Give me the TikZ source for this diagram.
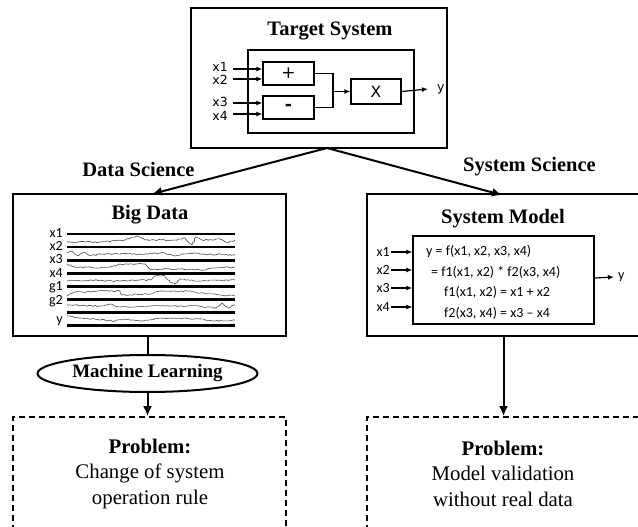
\documentclass[tikz,border=0pt]{standalone}
\usepackage{fontspec}
\setmainfont{Liberation Serif}
\newfontfamily\calib{Carlito}
\newfontfamily\dvs{DejaVu Sans}
\usetikzlibrary{arrows.meta,shapes.geometric,decorations.pathmorphing}
\begin{document}
\begin{tikzpicture}[x=1pt,y=-1pt,
  bigbox/.style={draw,line width=2pt,inner sep=0pt,rectangle},
  thinbox/.style={draw,line width=1.2pt,inner sep=0pt,rectangle},
  dbox/.style={draw,line width=1.7pt,dash pattern=on 6pt off 4pt,inner sep=0pt,rectangle},
  ttl/.style={font=\fontsize{20.5}{24}\selectfont\bfseries,inner sep=0pt},
  tlab/.style={font=\dvs\fontsize{12.5}{14}\selectfont,inner sep=0pt,anchor=east},
  clab/.style={font=\calib\fontsize{14}{16}\selectfont,inner sep=0pt},
  blab/.style={font=\calib\fontsize{14}{15}\selectfont,inner sep=0pt,text height=7pt,text depth=1pt,anchor=east},
  bigarrow/.style={line width=2pt,-{Latex[length=10pt,width=9pt]}},
  smallarrow/.style={line width=1.2pt,-{Latex[length=6pt,width=5pt]}},
  bar/.style={line width=2.6pt},
  wig/.style={line width=0.6pt,black!70,decorate,decoration={random steps,segment length=2pt,amplitude=0.7pt}}
]
\useasboundingbox (0,0) rectangle (638,527);
\pgfmathsetseed{11}

% ---------- Target system ----------
\node[bigbox,minimum width=256pt,minimum height=140pt] (target) at (319,78) {};
\node[ttl] (ttarget) at (330,31) {Target System};
\node[thinbox,minimum width=166pt,minimum height=83pt] (inner) at (331,91.5) {};
\node[thinbox,minimum width=51pt,minimum height=23pt,font=\dvs\fontsize{17}{18}\selectfont] (plus) at (288.5,73.5) {+};
\node[thinbox,minimum width=51pt,minimum height=23pt,font=\dvs\bfseries\fontsize{17}{18}\selectfont] (minus) at (288.5,107.5) {-};
\node[thinbox,minimum width=50pt,minimum height=25pt,font=\dvs\fontsize{15.5}{17}\selectfont] (mult) at (376,91.5) {X};
\node[tlab] (tx1) at (228,67) {x1};
\node[tlab] (tx2) at (228,80) {x2};
\node[tlab] (tx3) at (228,102) {x3};
\node[tlab] (tx4) at (228,116) {x4};
\coordinate (a1) at (233,69);
\coordinate (a2) at (233,79);
\coordinate (a3) at (233,103);
\coordinate (a4) at (233,114);
\draw[smallarrow] (a1) -- (a1 -| plus.west);
\draw[smallarrow] (a2) -- (a2 -| plus.west);
\draw[smallarrow] (a3) -- (a3 -| minus.west);
\draw[smallarrow] (a4) -- (a4 -| minus.west);
\coordinate (mid) at (333,91.5);
\draw[line width=1.2pt] (plus.east) -| (mid);
\draw[line width=1.2pt] (minus.east) -| (mid);
\draw[smallarrow] (mid) -- (mult.west);
\node[font=\dvs\fontsize{12.5}{14}\selectfont,inner sep=0pt,anchor=west] (ty) at (437,89) {y};
\draw[smallarrow] (mult.east) -- (ty.west -| 428,0);

% ---------- branch labels ----------
\node[ttl] (ds) at (138.5,169) {Data Science};
\node[ttl] (ss) at (529.5,167) {System Science};

% ---------- Big Data ----------
\node[bigbox,minimum width=273pt,minimum height=142pt] (bigdata) at (149.5,265) {};
\node[ttl] (tbig) at (150,215) {Big Data};
\foreach \i in {0,...,7} {
  \draw[bar] (67,{234+13.1*\i}) -- (235,{234+13.1*\i});
}
\foreach \lab [count=\k from 0] in {x1,x2,x3,x4,g1,g2} {
  \node[blab] (bl\k) at (63,{234+13.4*\k}) {\lab};
}
\node[blab] (bl6) at (63,320) {y};
\draw[wig] (67,242) -- (100,242) -- (125,240) -- (137,236) -- (145,240) -- (175,240) -- (185,238) -- (192,245) -- (196,237) -- (202,240) -- (220,239) -- (228,243) -- (235,240);
\draw[wig] (67,253) -- (72,251) -- (78,256) -- (84,252) -- (90,256) -- (100,254) -- (140,254) -- (165,253) -- (175,256) -- (190,253) -- (200,254) -- (235,255);
\draw[wig] (67,264) -- (75,267) -- (100,268) -- (115,266) -- (120,264) -- (145,264) -- (150,269) -- (180,269) -- (200,270) -- (215,268) -- (235,267);
\draw[wig] (67,281) -- (90,280) -- (115,281) -- (150,280) -- (155,276) -- (165,276) -- (170,282) -- (175,284) -- (180,279) -- (200,281) -- (235,280);
\draw[wig] (67,296) -- (75,292) -- (110,291) -- (120,291) -- (122,295) -- (150,294) -- (160,291) -- (190,291) -- (200,293) -- (235,296);
\draw[wig] (67,305) -- (100,306) -- (110,304) -- (120,307) -- (160,306) -- (200,306) -- (215,308) -- (222,303) -- (228,308) -- (235,305);
\draw[wig] (67,316) -- (80,318) -- (115,321) -- (125,319) -- (140,321) -- (160,318) -- (200,319) -- (215,321) -- (235,320);

% ---------- System Model ----------
\node[bigbox,minimum width=273pt,minimum height=142pt] (sysmodel) at (503.5,265) {};
\node[ttl] (tsys) at (503,219) {System Model};
\node[thinbox,minimum width=181pt,minimum height=88pt] (eqbox) at (503.5,280) {};
\node[clab,anchor=west] (e1) at (426,252) {y = f(x1, x2, x3, x4)};
\node[clab,anchor=west] (e2) at (431,272) {= f1(x1, x2) * f2(x3, x4)};
\node[clab,anchor=west] (e3) at (444,292) {f1(x1, x2) = x1 + x2};
\node[clab,anchor=west] (e4) at (444,313) {f2(x3, x4) = x3 – x4};
\foreach \lab/\yy [count=\k] in {x1/252,x2/270,x3/288,x4/307} {
  \node[clab,anchor=east] (mx\k) at (390,\yy) {\lab};
  \draw[smallarrow] (mx\k.east) ++(1,0) -- (eqbox.west |- mx\k.east);
}
\node[clab,anchor=west] (my) at (618,277) {y};
\draw[smallarrow] (eqbox.east |- 0,278) -- (my.west -| 614,0);

% ---------- main connectors ----------
\coordinate (split) at (327,148);
\draw[bigarrow] (split) -- (152,194);
\draw[bigarrow] (split) -- (502,195);

% ---------- Machine learning ----------
\node[draw,ellipse,line width=2pt,minimum width=220pt,minimum height=37pt,inner sep=0pt,font=\fontsize{19}{21}\selectfont\bfseries] (ml) at (147.5,373.5) {Machine Learning};
\draw[line width=2pt] (bigdata.south -| ml.north) -- (ml.north);

% ---------- Problems ----------
\node[dbox,minimum width=273pt,minimum height=116pt] (prob1) at (149.5,475) {};
\node[dbox,minimum width=273pt,minimum height=116pt] (prob2) at (503.5,475) {};
\draw[bigarrow] (ml.south) -- (ml.south |- prob1.north);
\draw[bigarrow] (sysmodel.south) -- (prob2.north);
\node[align=center,font=\fontsize{20.8}{25.5}\selectfont,inner sep=0pt] (p1t) at (150,473.5) {\textbf{Problem:}\\Change of system\\operation rule};
\node[align=center,font=\fontsize{20.8}{25.5}\selectfont,inner sep=0pt] (p2t) at (503,473.5) {\textbf{Problem:}\\Model validation\\without real data};
\end{tikzpicture}
\end{document}
